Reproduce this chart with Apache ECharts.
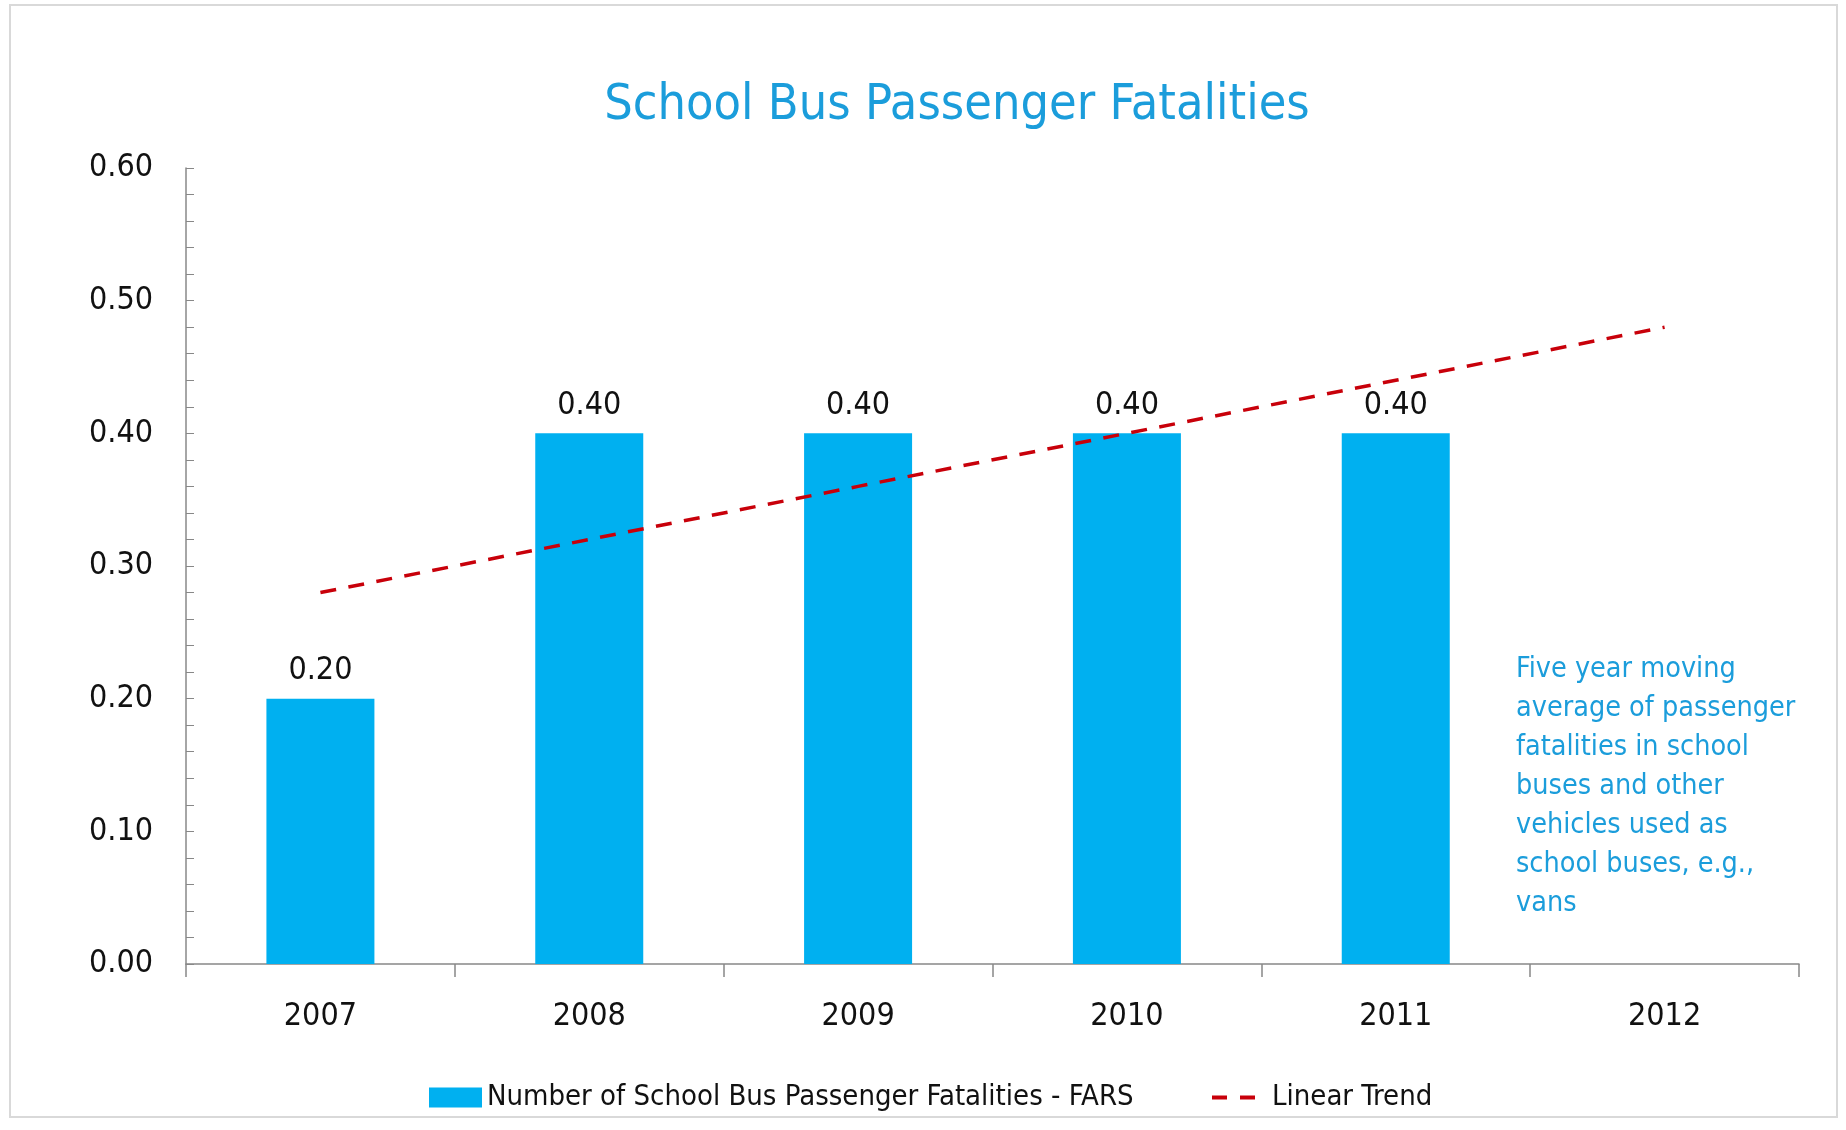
<!DOCTYPE html>
<html>
<head>
<meta charset="utf-8">
<title>School Bus Passenger Fatalities</title>
<script src="https://cdn.jsdelivr.net/npm/echarts@6/dist/echarts.min.js"></script>
<style>
  html, body { margin: 0; padding: 0; background: #fff; }
  #main { width: 1846px; height: 1130px; }
</style>
</head>
<body>
<div id="main"></div>
<script>
// data
const years = ['2007', '2008', '2009', '2010', '2011', '2012'];
const fatalities = [0.20, 0.40, 0.40, 0.40, 0.40, null];
const trend = [0.28, 0.32, 0.36, 0.40, 0.44, 0.48];
const noteLines = [
  'Five year moving',
  'average of passenger',
  'fatalities in school',
  'buses and other',
  'vehicles used as',
  'school buses, e.g.,',
  'vans'
];

const font = '"DejaVu Sans Condensed", "DejaVu Sans", sans-serif';
const blue = '#00b0f0';
const red = '#c8000a';

var myChart = echarts.init(document.getElementById('main'));

var option = {
  backgroundColor: '#fff',
  animation: false,
  textStyle: { fontFamily: font },
  title: {
    text: 'School Bus Passenger Fatalities',
    left: 952,
    top: 76,
    textAlign: 'center',
    textStyle: { color: '#1b9ddb', fontSize: 50, fontWeight: 'normal', fontFamily: font }
  },
  legend: [
    {
      data: [{ name: 'Number of School Bus Passenger Fatalities - FARS', icon: 'rect' }],
      left: 424,
      top: 1078,
      itemWidth: 53,
      itemHeight: 20,
      textStyle: { fontSize: 29, color: '#111', fontFamily: font }
    },
    {
      // two short dashes like the chart's legend key
      data: [{ name: 'Linear Trend', icon: 'path://M0 0h15v4h-15z M28 0h15v4h-15z' }],
      left: 1207,
      top: 1078,
      itemWidth: 43,
      itemHeight: 4,
      textStyle: { fontSize: 29, color: '#111', fontFamily: font, padding: [0, 0, 0, 12] }
    }
  ],
  grid: { left: 186, right: 47, top: 168, bottom: 166 },
  xAxis: {
    type: 'category',
    data: years,
    axisLine: { lineStyle: { color: '#888', width: 1.5 } },
    axisTick: { show: true, length: 13, lineStyle: { color: '#888', width: 1.5 } },
    axisLabel: { color: '#111', fontSize: 32, margin: 37, fontFamily: font }
  },
  yAxis: {
    type: 'value',
    min: 0,
    max: 0.6,
    interval: 0.1,
    axisLine: { show: true, lineStyle: { color: '#888', width: 1.5 } },
    axisTick: { show: true, inside: true, length: 8, lineStyle: { color: '#888' } },
    minorTick: { show: true, splitNumber: 5, length: 8, lineStyle: { color: '#888' } },
    splitLine: { show: false },
    axisLabel: {
      color: '#111', fontSize: 32, margin: 33, fontFamily: font,
      formatter: function (v) { return v.toFixed(2); }
    }
  },
  series: [
    {
      name: 'Number of School Bus Passenger Fatalities - FARS',
      type: 'bar',
      data: fatalities,
      barWidth: 108,
      itemStyle: { color: blue },
      label: {
        show: true,
        position: 'top',
        distance: 12,
        color: '#111',
        fontSize: 32,
        fontFamily: font,
        formatter: function (p) { return p.value.toFixed(2); }
      }
    },
    {
      name: 'Linear Trend',
      type: 'line',
      data: trend,
      symbol: 'none',
      z: 5,
      lineStyle: { color: red, width: 3.5, type: [16, 12.5] },
      itemStyle: { color: red }
    }
  ],
  graphic: [
    {
      type: 'rect',
      shape: { x: 10, y: 5, width: 1827, height: 1112 },
      style: { fill: 'none', stroke: '#d9d9d9', lineWidth: 2 },
      silent: true
    },
    {
      type: 'text',
      left: 1516,
      top: 650,
      style: {
        text: noteLines.join('\n'),
        fill: '#1b9ddb',
        font: '28.5px ' + font,
        lineHeight: 39
      }
    }
  ]
};

myChart.setOption(option);
</script>
</body>
</html>
